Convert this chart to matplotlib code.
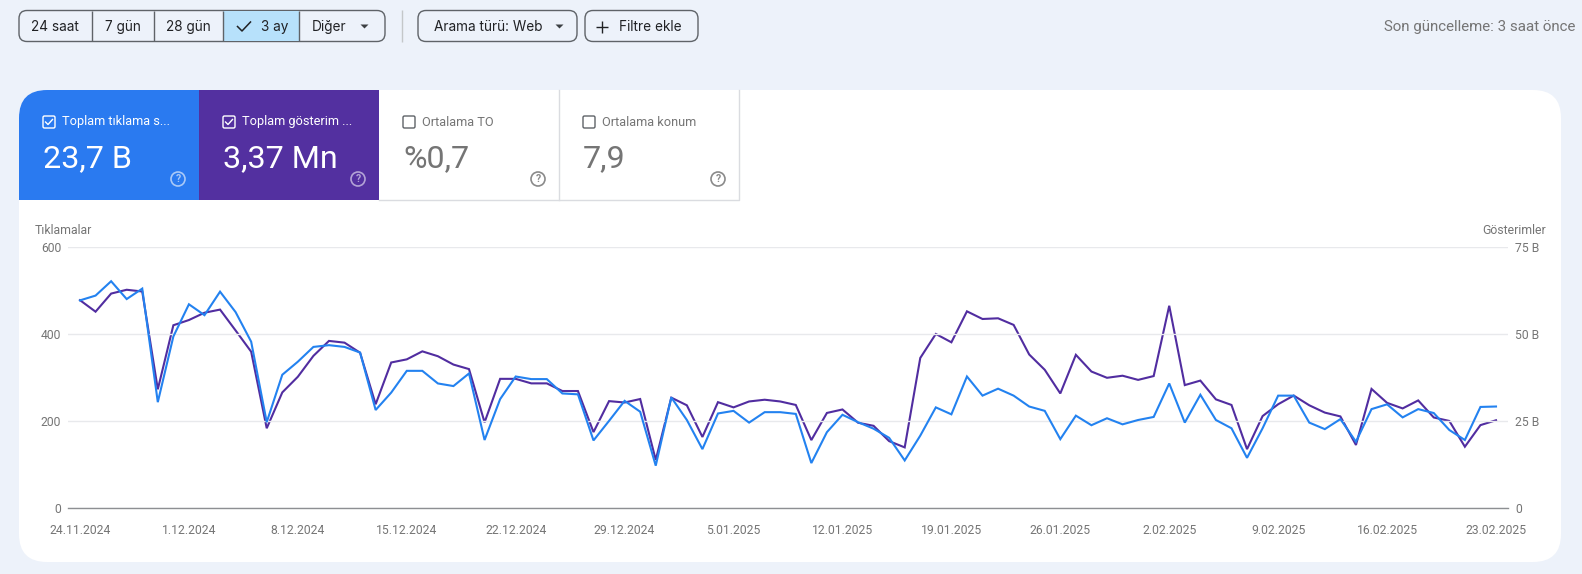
#!/usr/bin/env python3
# -*- coding: utf-8 -*-
import pandas as pd
import matplotlib
matplotlib.use("Agg")
import matplotlib.pyplot as plt
from matplotlib.patches import FancyBboxPatch, Rectangle, Circle, Polygon

plt.rcParams["font.family"] = ["Roboto", "DejaVu Sans"]

W, H = 1582, 574

start_date = "2024-11-24"
clicks = [478, 489, 522, 481, 505, 244, 395, 469, 444, 498, 451, 383, 198, 307, 337, 371, 375, 371, 358, 226,
          266, 316, 316, 287, 281, 310, 157, 251, 303, 297, 297, 264, 262, 156, 201, 247, 222, 98, 255, 203,
          136, 218, 224, 197, 221, 221, 217, 104, 175, 215, 198, 183, 162, 110, 167, 232, 216, 303, 259, 275,
          259, 234, 224, 159, 213, 191, 207, 193, 203, 210, 287, 197, 261, 203, 184, 116, 184, 259, 259, 197,
          182, 205, 153, 228, 239, 209, 228, 219, 180, 157, 233, 234]
impressions = [59.8, 56.5, 61.7, 62.8, 62.3, 34.2, 52.6, 54.1, 56.2, 57.1, 51.1, 45.0, 23.0, 33.3, 37.8, 43.8,
               48.1, 47.6, 44.7, 29.9, 41.9, 42.8, 45.1, 43.7, 41.3, 40.0, 24.7, 37.2, 37.2, 35.9, 35.9, 33.7,
               33.7, 21.9, 30.8, 30.4, 31.4, 13.9, 31.8, 29.6, 20.5, 30.5, 29.0, 30.7, 31.2, 30.7, 29.7, 19.6,
               27.4, 28.4, 24.6, 23.7, 19.3, 17.5, 43.2, 50.1, 47.7, 56.6, 54.4, 54.6, 52.7, 44.2, 39.8, 33.0,
               44.1, 39.3, 37.5, 38.1, 36.9, 38.0, 58.2, 35.4, 36.7, 31.3, 29.7, 17.0, 26.5, 29.9, 32.4, 29.6,
               27.5, 26.4, 18.2, 34.3, 30.3, 28.7, 31.0, 26.1, 25.1, 17.7, 23.9, 25.3]
x_tick_labels = ["24.11.2024", "1.12.2024", "8.12.2024", "15.12.2024", "22.12.2024", "29.12.2024", "5.01.2025",
                 "12.01.2025", "19.01.2025", "26.01.2025", "2.02.2025", "9.02.2025", "16.02.2025", "23.02.2025"]
left_ticks = [0, 200, 400, 600]
right_ticks = [0, 25, 50, 75]
right_tick_labels = ["0", "25 B", "50 B", "75 B"]

PAGE = "#edf2fa"
BLUE = "#2a7af0"
PURPLE = "#5330a0"
LINE_BLUE = "#2382f0"
LINE_PURPLE = "#512da0"
GREY = "#757575"
DARK = "#3c4043"
EDGE = "#5f6368"

fig = plt.figure(figsize=(W / 100, H / 100), dpi=100, facecolor=PAGE)

# page chrome is drawn in pixel coordinates
bg = fig.add_axes([0, 0, 1, 1])
bg.set_xlim(0, W)
bg.set_ylim(H, 0)
bg.axis("off")


def rbox(x0, y0, x1, y1, r, **kw):
    p = FancyBboxPatch((x0 + r, y0 + r), x1 - x0 - 2 * r, y1 - y0 - 2 * r,
                       boxstyle=f"round,pad={r},rounding_size={r}", **kw)
    bg.add_patch(p)
    return p


def checkbox(x, y, color):
    bg.add_patch(FancyBboxPatch((x + 1, y + 1), 10, 10, boxstyle="round,pad=1,rounding_size=1.5",
                                fc="none", ec=color, lw=1.0))
    if color == "white":
        bg.plot([x + 2.5, x + 5, x + 9.5], [y + 6, y + 8.5, y + 3.5], color=color, lw=1.0)


def help_icon(x, y, color):
    bg.add_patch(Circle((x, y), 7, fc="none", ec=color, lw=1.2))
    bg.text(x, y + 0.3, "?", color=color, fontsize=7.5, ha="center", va="center", fontweight="bold")


# buttons
rbox(19, 10.5, 385, 41.5, 8, fc=PAGE, ec=EDGE, lw=1)
bg.add_patch(Rectangle((222.5, 11), 76, 30, fc="#b7e1fb", ec="none"))
for xd in [91.6, 153.7, 222.5, 298.6]:
    bg.plot([xd, xd], [11, 41], color=EDGE, lw=1, solid_capstyle="butt")
bg.plot([402, 402], [10, 42], color="#c4c7c9", lw=1, solid_capstyle="butt")
rbox(418, 10.5, 577, 41.5, 8, fc=PAGE, ec=EDGE, lw=1)
rbox(585, 10.5, 698, 41.5, 8, fc=PAGE, ec=EDGE, lw=1)

btn_font = dict(color="#202124", fontsize=9.8, va="center", family=["Inter", "DejaVu Sans"])
bg.text(55, 27, "24 saat", ha="center", **btn_font)
bg.text(122.5, 27, "7 gün", ha="center", **btn_font)
bg.text(188, 27, "28 gün", ha="center", **btn_font)
bg.text(275, 27, "3 ay", ha="center", **btn_font)
bg.text(311.5, 27, "Diğer", ha="left", **btn_font)
bg.text(434, 27, "Arama türü: Web", ha="left", **btn_font)
bg.text(619, 27, "Filtre ekle", ha="left", **btn_font)
bg.plot([237.5, 242, 250.5], [26.5, 31, 22], color="#202124", lw=1.1)
bg.plot([595.5, 607.5], [26.5, 26.5], color="#202124", lw=1.0, solid_capstyle="butt")
bg.plot([601.5, 601.5], [20.5, 32.5], color="#202124", lw=1.0, solid_capstyle="butt")
for xc in [364.5, 559.5]:
    bg.add_patch(Polygon([(xc - 4, 24.5), (xc + 4, 24.5), (xc, 28.5)], fc=DARK, ec="none"))
bg.text(1575, 27, "Son güncelleme: 3 saat önce", color=GREY, fontsize=10.9, ha="right", va="center")

# white card + metric tiles
card = rbox(19, 90, 1561, 562, 28, fc="white", ec="none")
for x0, x1, col in [(19, 199, BLUE), (199, 379, PURPLE)]:
    tile = Rectangle((x0, 90), x1 - x0, 110, fc=col, ec="none")
    bg.add_patch(tile)
    tile.set_clip_path(card)
bg.plot([379, 739, 739], [200, 200, 90], color="#dadce0", lw=1)
bg.plot([558.5, 558.5], [90, 200], color="#dadce0", lw=1)

tiles = [(43, "Toplam tıklama s...", "23,7 B", "white"),
         (223, "Toplam gösterim ...", "3,37 Mn", "white"),
         (403, "Ortalama TO", "%0,7", GREY),
         (583, "Ortalama konum", "7,9", GREY)]
for x, label, value, col in tiles:
    checkbox(x, 116, col if col == "white" else "#5f6368")
    bg.text(x + 19, 122, label, color=col, fontsize=9.2, va="center", ha="left")
    bg.text(x, 159, value, color=col, fontsize=23.2, va="center", ha="left")
    help_icon(x + 135, 179, "#a9c9f7" if value == "23,7 B" else "#b3a3d6" if col == "white" else "#8a8a8a")

bg.text(35, 231, "Tıklamalar", color=GREY, fontsize=8.8, va="center", ha="left")
bg.text(1546, 231, "Gösterimler", color=GREY, fontsize=8.8, va="center", ha="right")

# chart axes
ax_x0, ax_x1, ax_top, ax_bottom = 68, 1508, 247.3, 508.3
ax = fig.add_axes([ax_x0 / W, 1 - ax_bottom / H, (ax_x1 - ax_x0) / W, (ax_bottom - ax_top) / H])
dates = pd.date_range(start_date, periods=len(clicks))
px_per_day = 15.56
pad_days = pd.Timedelta(days=12 / px_per_day)
ax.set_xlim(dates[0] - pad_days, dates[-1] + pad_days)
ax.set_ylim(0, 600)
ax.set_yticks(left_ticks)
ax.set_xticks(dates[::7])
ax.set_xticklabels(x_tick_labels)
ax.tick_params(axis="both", length=0, labelcolor=GREY, labelsize=8.7)
ax.tick_params(axis="x", pad=11)
ax.tick_params(axis="y", pad=5)
ax.grid(axis="y", color="#e8e9ec", lw=1)
ax.set_axisbelow(True)
for s in ["top", "left", "right"]:
    ax.spines[s].set_visible(False)
ax.spines["bottom"].set_color("#8d8f92")
ax.spines["bottom"].set_linewidth(1)

ax2 = ax.twinx()
ax2.set_ylim(0, 75)
ax2.set_yticks(right_ticks)
ax2.set_yticklabels(right_tick_labels)
ax2.tick_params(axis="y", length=0, labelcolor=GREY, labelsize=8.7, pad=5)
for s in ax2.spines.values():
    s.set_visible(False)

# purple goes under the blue line, both above the page axes
ax.patch.set_visible(False)
ax2.patch.set_visible(False)
ax2.set_zorder(1)
ax.set_zorder(2)
ax2.plot(dates, impressions, color=LINE_PURPLE, lw=1.5, solid_joinstyle="miter", zorder=2)
ax.plot(dates, clicks, color=LINE_BLUE, lw=1.5, solid_joinstyle="miter", zorder=3)

fig.savefig("out.png", dpi=100, facecolor=PAGE)
